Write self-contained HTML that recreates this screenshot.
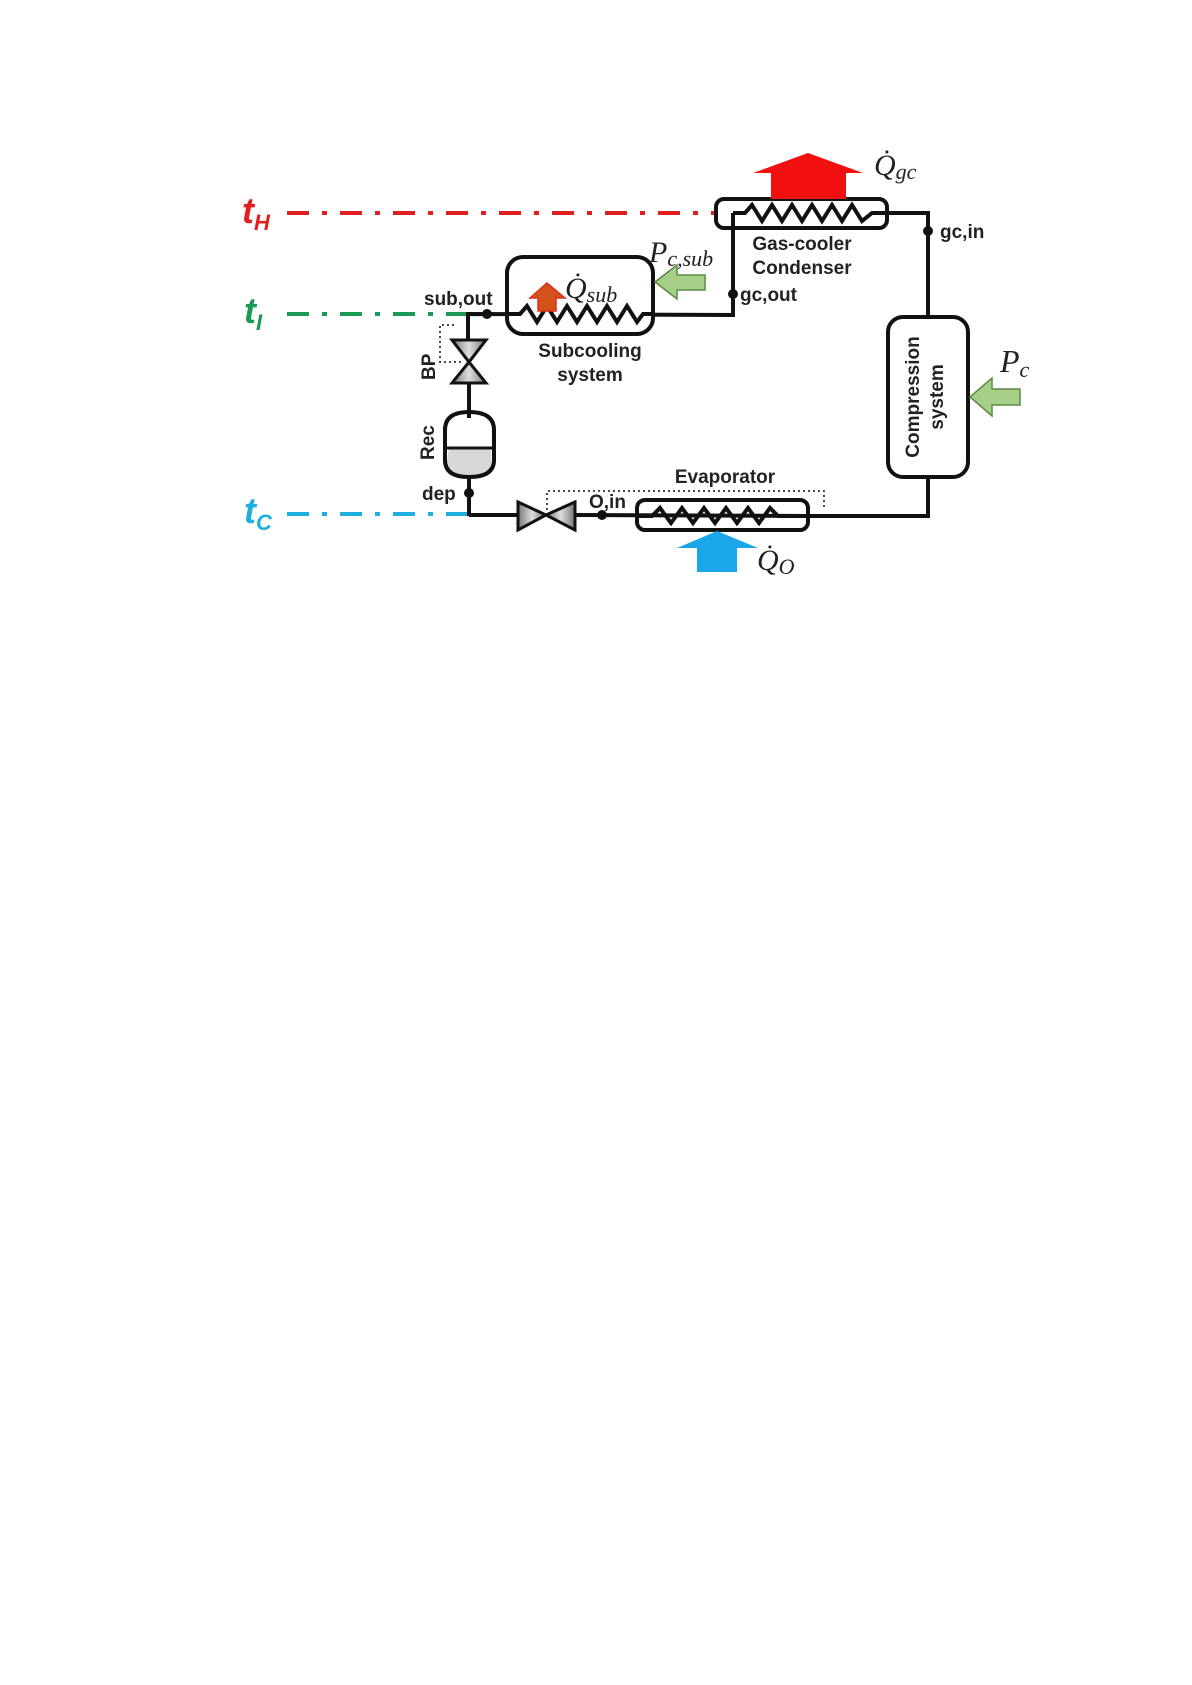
<!DOCTYPE html>
<html><head><meta charset="utf-8"><style>
html,body{margin:0;padding:0;background:#fff;}
svg{display:block;}
.lb{font-family:"Liberation Sans",sans-serif;font-weight:bold;font-size:19px;fill:#222;}
.mt{font-family:"Liberation Serif",serif;font-style:italic;fill:#222;}
.tl{font-family:"Liberation Sans",sans-serif;font-weight:bold;font-style:italic;}
</style></head><body>
<svg width="1192" height="1685" viewBox="0 0 1192 1685" xmlns="http://www.w3.org/2000/svg">
<g stroke-width="4" fill="none" stroke-dasharray="22 13 5 13">
<line x1="287" y1="213" x2="716" y2="213" stroke="#e02020"/>
<line x1="287" y1="314" x2="468" y2="314" stroke="#1a9a55"/>
<line x1="287" y1="514" x2="469" y2="514" stroke="#1eaee0"/>
</g>
<text x="242" y="223" class="tl" font-size="36" fill="#e02020">t<tspan font-size="22" dy="7">H</tspan></text>
<text x="244" y="323" class="tl" font-size="36" fill="#1a9a55">t<tspan font-size="22" dy="7">I</tspan></text>
<text x="244" y="523" class="tl" font-size="36" fill="#1eaee0">t<tspan font-size="22" dy="7">C</tspan></text>

<g stroke="#111" stroke-width="4" fill="none">
<polyline points="887,213 928,213 928,317"/>
<polyline points="733,213 733,315 468,314 468,340"/>
<line x1="469" y1="383" x2="469" y2="418"/>
<line x1="469" y1="463" x2="469" y2="516"/>
<polyline points="469,515 518,515"/>
<polyline points="575,515 808,516 928,516 928,477"/>
</g>
<rect x="716" y="199" width="171" height="29" rx="8" fill="none" stroke="#111" stroke-width="4"/>
<polyline points="733,213 745,213 752,205 762,221 772,205 782,221 792,205 802,221 812,205 822,221 832,205 842,221 852,205 862,221 872,213 887,213" fill="none" stroke="#111" stroke-width="4"/>
<polygon points="808,153 863,173 846,173 846,199 771,199 771,173 753,173" fill="#f01010"/>
<text x="874" y="175" class="mt" font-size="30">Q̇<tspan font-size="22" dy="4">gc</tspan></text>
<circle cx="928" cy="231" r="5" fill="#111"/>
<text x="940" y="238" class="lb">gc,in</text>
<text x="802" y="250" class="lb" text-anchor="middle">Gas-cooler</text>
<text x="802" y="274" class="lb" text-anchor="middle">Condenser</text>
<circle cx="733" cy="294" r="5" fill="#111"/>
<text x="740" y="301" class="lb">gc,out</text>

<rect x="507" y="257" width="146" height="77" rx="16" fill="#fff" stroke="#111" stroke-width="4"/>
<polyline points="507,314 520,314 527,306 537,322 547,306 557,322 567,306 577,322 587,306 597,322 607,306 617,322 627,306 637,322 643,314 653,314" fill="none" stroke="#111" stroke-width="4"/>
<polygon points="547,283 565,298 556,298 556,311 538,311 538,298 530,298" fill="#d2521a" stroke="#e03020" stroke-width="1.5"/>
<text x="565" y="298" class="mt" font-size="30">Q̇<tspan font-size="22" dy="4">sub</tspan></text>
<polygon points="655,282 677,265 677,275 705,275 705,290 677,290 677,299" fill="#a6d08a" stroke="#5a8a40" stroke-width="1.5"/>
<text x="649" y="262" class="mt" font-size="30">P<tspan font-size="22" dy="4">c,sub</tspan></text>
<text x="590" y="357" class="lb" text-anchor="middle">Subcooling</text>
<text x="590" y="381" class="lb" text-anchor="middle">system</text>
<circle cx="487" cy="314" r="5" fill="#111"/>
<text x="424" y="305" class="lb">sub,out</text>

<polyline points="454,325 440,325 440,362 462,362" fill="none" stroke="#333" stroke-width="1.8" stroke-dasharray="2 3"/>
<defs><linearGradient id="g" x1="0" x2="1"><stop offset="0" stop-color="#777"/><stop offset="0.5" stop-color="#ddd"/><stop offset="1" stop-color="#777"/></linearGradient></defs>
<polygon points="452,340 486,340 469,362" fill="url(#g)" stroke="#111" stroke-width="3"/>
<polygon points="452,383 486,383 469,362" fill="url(#g)" stroke="#111" stroke-width="3"/>
<text transform="translate(435,380) rotate(-90)" class="lb">BP</text>

<path d="M449,448 L491,448 L491,462 Q491,477 469,477 Q447,477 447,462 Z" fill="#d8d8d8"/>
<path d="M445,430 Q445,412 469,412 Q494,412 494,430 L494,460 Q494,477 469,477 Q445,477 445,460 Z" fill="none" stroke="#111" stroke-width="4"/>
<line x1="445" y1="448" x2="494" y2="448" stroke="#111" stroke-width="3"/>
<text transform="translate(434,460) rotate(-90)" class="lb">Rec</text>
<circle cx="469" cy="493" r="5" fill="#111"/>
<text x="422" y="500" class="lb">dep</text>

<polyline points="547,510 547,491 824,491 824,510" fill="none" stroke="#333" stroke-width="1.8" stroke-dasharray="2 3"/>
<polygon points="518,502 518,530 546,515" fill="url(#g)" stroke="#111" stroke-width="3"/>
<polygon points="575,502 575,530 546,515" fill="url(#g)" stroke="#111" stroke-width="3"/>
<circle cx="602" cy="515" r="5" fill="#111"/>
<text x="589" y="508" class="lb">O,in</text>

<rect x="637" y="500" width="171" height="30" rx="8" fill="none" stroke="#111" stroke-width="4"/>
<polyline points="637,516 652,516 660,508 671,523 682,508 693,523 704,508 715,523 726,508 737,523 748,508 759,523 770,508 778,516 808,516" fill="none" stroke="#111" stroke-width="4"/>
<text x="725" y="483" class="lb" text-anchor="middle">Evaporator</text>
<polygon points="717,531 758,548 737,548 737,572 697,572 697,548 677,548" fill="#1aa6e8"/>
<text x="757" y="570" class="mt" font-size="30">Q̇<tspan font-size="22" dy="4">O</tspan></text>

<rect x="888" y="317" width="80" height="160" rx="15" fill="#fff" stroke="#111" stroke-width="4"/>
<text transform="translate(919,397) rotate(-90)" class="lb" text-anchor="middle" font-size="20">Compression</text>
<text transform="translate(943,397) rotate(-90)" class="lb" text-anchor="middle" font-size="20">system</text>
<polygon points="970,397 992,378 992,389 1020,389 1020,405 992,405 992,416" fill="#a6d08a" stroke="#5a8a40" stroke-width="1.5"/>
<text x="1000" y="372" class="mt" font-size="32">P<tspan font-size="22" dy="5">c</tspan></text>
</svg>
</body></html>
